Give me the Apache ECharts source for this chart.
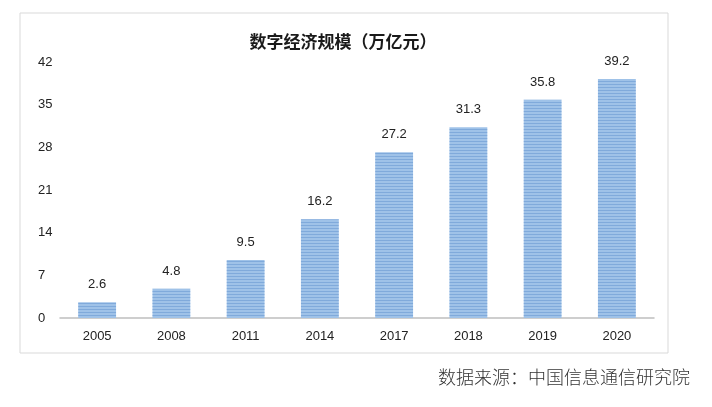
<!DOCTYPE html>
<html><head><meta charset="utf-8">
<script src="https://cdn.jsdelivr.net/npm/echarts@6/dist/echarts.min.js"></script>
<style>html,body{margin:0;padding:0;background:#fff}#c{width:712px;height:407px}</style>
</head><body><div id="c"></div>
<script>
const categories = ['2005','2008','2011','2014','2017','2018','2019','2020'];
const values = [2.6, 4.8, 9.5, 16.2, 27.2, 31.3, 35.8, 39.2];
const yTicks = [0, 7, 14, 21, 28, 35, 42];
const titleText = '数字经济规模（万亿元）';
const sourceText = '数据来源：中国信息通信研究院';

const chart = echarts.init(document.getElementById('c'));
chart.setOption({
  backgroundColor: '#fff',
  title: {
    text: titleText, left: 338, top: 28, textAlign: 'center',
    textStyle: { fontSize: 17, fontWeight: 'bold', color: '#1a1a1a', fontFamily: 'Noto Sans CJK SC' }
  },
  graphic: [
    { type: 'rect', shape: { x: 20, y: 13, width: 648, height: 340 },
      style: { fill: 'none', stroke: '#d9d9d9', lineWidth: 1 }, z: -1 },
    { type: 'text', right: 22, top: 368,
      style: { text: sourceText, fontSize: 18, fill: '#333', fontFamily: 'Noto Sans CJK SC', fontWeight: 300 } }
  ],
  grid: { left: 60, right: 58, top: 62, bottom: 89 },
  xAxis: {
    type: 'category', data: categories,
    axisLine: { lineStyle: { color: '#bfbfbf', width: 1.5 } },
    axisTick: { show: false },
    axisLabel: { color: '#222', fontSize: 13, margin: 12, fontFamily: 'Liberation Sans' }
  },
  yAxis: {
    type: 'value', min: yTicks[0], max: yTicks[yTicks.length - 1], interval: 7,
    splitLine: { show: false },
    axisLine: { show: false }, axisTick: { show: false },
    axisLabel: { color: '#222', fontSize: 13, margin: 22, align: 'left', fontFamily: 'Liberation Sans',
      formatter: v => yTicks.includes(v) ? String(v) : '' }
  },
  series: [{
    type: 'bar', data: values, barWidth: '51%',
    itemStyle: {
      color: '#9fc2e8',
      decal: { symbol: 'rect', dashArrayX: [1, 0], dashArrayY: [1, 2], rotation: 0, color: 'rgba(90,140,205,0.45)' }
    },
    label: { show: true, position: 'top', distance: 11, color: '#222', fontSize: 13, fontFamily: 'Liberation Sans' }
  }],
  aria: { enabled: false }
});
</script></body></html>
